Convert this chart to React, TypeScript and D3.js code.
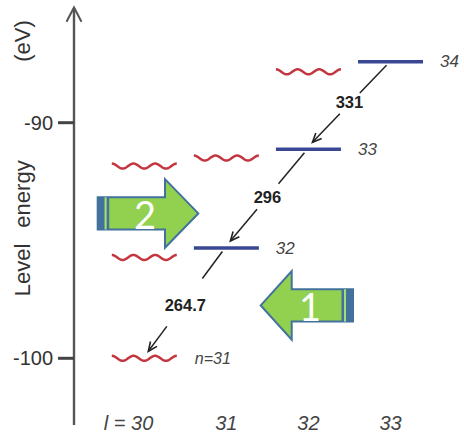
import React from "react";
import * as d3 from "d3";

// ---------- data ----------
const orbitalL = [30, 31, 32, 33];
const xTickLabels = ["l = 30", "31", "32", "33"];
const yTickValues = [-90, -100];
const yTickLabels = ["-90", "-100"];

// yrast (blue) levels: [l, energy eV]
const yrastL = [31, 32, 33];
const yrastEnergy = [-95.32, -91.13, -87.41];
const yrastLabels = ["32", "33", "34"];

// perturbed (red wavy) levels
const wavyL = [30, 30, 30, 31, 32];
const wavyEnergy = [-100.0, -95.72, -91.84, -91.5, -87.84];
const wavyLabels = ["n=31", "", "", "", ""];

// transitions (wavelengths)
const transFromL = [33, 32, 31];
const transFromE = [-87.41, -91.13, -95.32];
const transToL = [32, 31, 30];
const transToE = [-91.13, -95.32, -100.0];
const transLabels = ["331", "296", "264.7"];

// block arrows
const blockArrowLabels = ["2", "1"];

// ---------- layout ----------
const W = 464;
const H = 433;
const halfLen = 32.5;
const gapT = [
  [0.36, 0.63],
  [0.35, 0.64],
  [0.27, 0.75],
];

export default function App() {
  const x = d3.scaleLinear().domain([30, 33]).range([144.3, 390.5]);
  const y = d3.scaleLinear().domain([-100, -90]).range([358.3, 122.7]);

  const axisX = 74;
  const textFont = "'Liberation Sans', Arial, Helvetica, sans-serif";

  const wave = (cx: number, cy: number) => {
    const pts: [number, number][] = [];
    const period = (2 * halfLen) / 3;
    for (let i = 0; i <= 130; i++) {
      const t = -halfLen + (i * 2 * halfLen) / 130;
      pts.push([cx + t, cy - 2.5 * Math.cos((2 * Math.PI * (t + halfLen)) / period)]);
    }
    return d3.line()(pts) as string;
  };

  const blockArrow = (
    tail: number,
    headBase: number,
    tip: number,
    cy: number,
    bodyHalf: number,
    headHalf: number
  ) => {
    const pts: [number, number][] = [
      [tail, cy - bodyHalf],
      [headBase, cy - bodyHalf],
      [headBase, cy - headHalf],
      [tip, cy],
      [headBase, cy + headHalf],
      [headBase, cy + bodyHalf],
      [tail, cy + bodyHalf],
    ];
    return pts.map((p) => p.join(",")).join(" ");
  };

  const green = "#92D050";
  const arrowBlue = "#41719C";
  const levelBlue = "#3A4893";
  const wavyRed = "#C4363F";

  const arrows = [
    { tail: 97.7, headBase: 165, tip: 198.3, cy: 213.4, dir: 1 },
    { tail: 353, headBase: 291.7, tip: 260.7, cy: 305.4, dir: -1 },
  ];

  return (
    <svg
      width={W}
      height={H}
      style={{ position: "absolute", left: 0, top: 0, background: "#fff" }}
    >
      {/* y axis */}
      <line x1={axisX} x2={axisX} y1={8} y2={425} stroke="#555" strokeWidth={2.4} />
      <polyline
        points={`${axisX - 7.5},21.7 ${axisX},7.5 ${axisX + 7.5},21.7`}
        fill="none"
        stroke="#555"
        strokeWidth={2}
      />
      {yTickValues.map((v, i) => (
        <g key={v}>
          <line x1={58} x2={axisX} y1={y(v)} y2={y(v)} stroke="#444" strokeWidth={3} />
          <text
            x={53}
            y={y(v)}
            textAnchor="end"
            dominantBaseline="central"
            fontFamily={textFont}
            fontSize={20}
            fill="#333"
          >
            {yTickLabels[i]}
          </text>
        </g>
      ))}
      {/* y label */}
      <text
        transform="translate(30,41) rotate(-90)"
        textAnchor="middle"
        fontFamily={textFont}
        fontSize={22}
        fill="#333"
      >
        (eV)
      </text>
      <text
        transform="translate(30,194) rotate(-90)"
        textAnchor="middle"
        fontFamily={textFont}
        fontSize={22}
        fill="#333"
      >
        energy
      </text>
      <text
        transform="translate(30,270) rotate(-90)"
        textAnchor="middle"
        fontFamily={textFont}
        fontSize={22}
        fill="#333"
      >
        Level
      </text>

      {/* x labels */}
      {orbitalL.map((l, i) => (
        <text
          key={l}
          x={i === 0 ? x(l) + 9 : x(l)}
          y={423}
          textAnchor={i === 0 ? "end" : "middle"}
          dominantBaseline="central"
          fontFamily={textFont}
          fontStyle="italic"
          fontSize={20}
          fill="#444"
          style={{ whiteSpace: "pre" }}
        >
          {xTickLabels[i]}
        </text>
      ))}

      {/* wavy levels */}
      {wavyL.map((l, i) => (
        <g key={"w" + i}>
          <path
            d={wave(x(l), y(wavyEnergy[i]))}
            fill="none"
            stroke={wavyRed}
            strokeWidth={2.5}
          />
          {wavyLabels[i] && (
            <text
              x={x(l) + halfLen + 18}
              y={y(wavyEnergy[i])}
              dominantBaseline="central"
              fontFamily={textFont}
              fontStyle="italic"
              fontSize={16}
              fill="#444"
            >
              {wavyLabels[i]}
            </text>
          )}
        </g>
      ))}

      {/* yrast levels */}
      {yrastL.map((l, i) => (
        <g key={"b" + i}>
          <line
            x1={x(l) - halfLen}
            x2={x(l) + halfLen}
            y1={y(yrastEnergy[i])}
            y2={y(yrastEnergy[i])}
            stroke={levelBlue}
            strokeWidth={3.5}
          />
          <text
            x={x(l) + halfLen + 17}
            y={y(yrastEnergy[i])}
            dominantBaseline="central"
            fontFamily={textFont}
            fontStyle="italic"
            fontSize={17}
            fill="#444"
          >
            {yrastLabels[i]}
          </text>
        </g>
      ))}

      {/* transitions */}
      {transLabels.map((lab, i) => {
        const x0 = x(transFromL[i]) - 4;
        const y0 = y(transFromE[i]) + 3.5;
        const x1 = x(transToL[i]) + 4;
        const y1 = y(transToE[i]) - 7;
        const dx = x1 - x0;
        const dy = y1 - y0;
        const [g0, g1] = gapT[i];
        const ang = Math.atan2(dy, dx);
        const ah = 10;
        const spread = 0.42;
        const a1x = x1 - ah * Math.cos(ang - spread);
        const a1y = y1 - ah * Math.sin(ang - spread);
        const a2x = x1 - ah * Math.cos(ang + spread);
        const a2y = y1 - ah * Math.sin(ang + spread);
        return (
          <g key={lab}>
            <line
              x1={x0}
              y1={y0}
              x2={x0 + dx * g0}
              y2={y0 + dy * g0}
              stroke="#222"
              strokeWidth={1.5}
            />
            <line
              x1={x0 + dx * g1}
              y1={y0 + dy * g1}
              x2={x1}
              y2={y1}
              stroke="#222"
              strokeWidth={1.5}
            />
            <polyline
              points={`${a1x},${a1y} ${x1},${y1} ${a2x},${a2y}`}
              fill="none"
              stroke="#222"
              strokeWidth={1.6}
            />
            <text
              x={x0 + dx * 0.5}
              y={y0 + dy * 0.5 + (i === 2 ? 4 : i === 0 ? -2 : 0)}
              textAnchor="middle"
              dominantBaseline="central"
              fontFamily={textFont}
              fontWeight="bold"
              fontSize={16.5}
              fill="#222"
            >
              {lab}
            </text>
          </g>
        );
      })}

      {/* block arrows */}
      {arrows.map((a, i) => {
        const s = a.dir;
        return (
          <g key={"ba" + i}>
            <polygon
              points={blockArrow(a.tail, a.headBase, a.tip, a.cy, 16.2, 34.3)}
              fill={green}
              stroke={arrowBlue}
              strokeWidth={2}
              strokeLinejoin="miter"
            />
            <rect
              x={s > 0 ? a.tail : a.tail - 7}
              y={a.cy - 16.2}
              width={7}
              height={32.4}
              fill={arrowBlue}
            />
            <rect
              x={s > 0 ? a.tail + 7 : a.tail - 9}
              y={a.cy - 16.2}
              width={2}
              height={32.4}
              fill="#A9DA74"
            />
            <rect
              x={s > 0 ? a.tail + 9 : a.tail - 11.5}
              y={a.cy - 16.2}
              width={2.5}
              height={32.4}
              fill={arrowBlue}
            />
            <text
              x={s > 0 ? 145 : 310}
              y={a.cy + 1}
              textAnchor="middle"
              dominantBaseline="central"
              fontFamily="Lato, 'Open Sans', sans-serif"
              fontSize={38}
              fill="#fff"
            >
              {blockArrowLabels[i]}
            </text>
          </g>
        );
      })}
    </svg>
  );
}
